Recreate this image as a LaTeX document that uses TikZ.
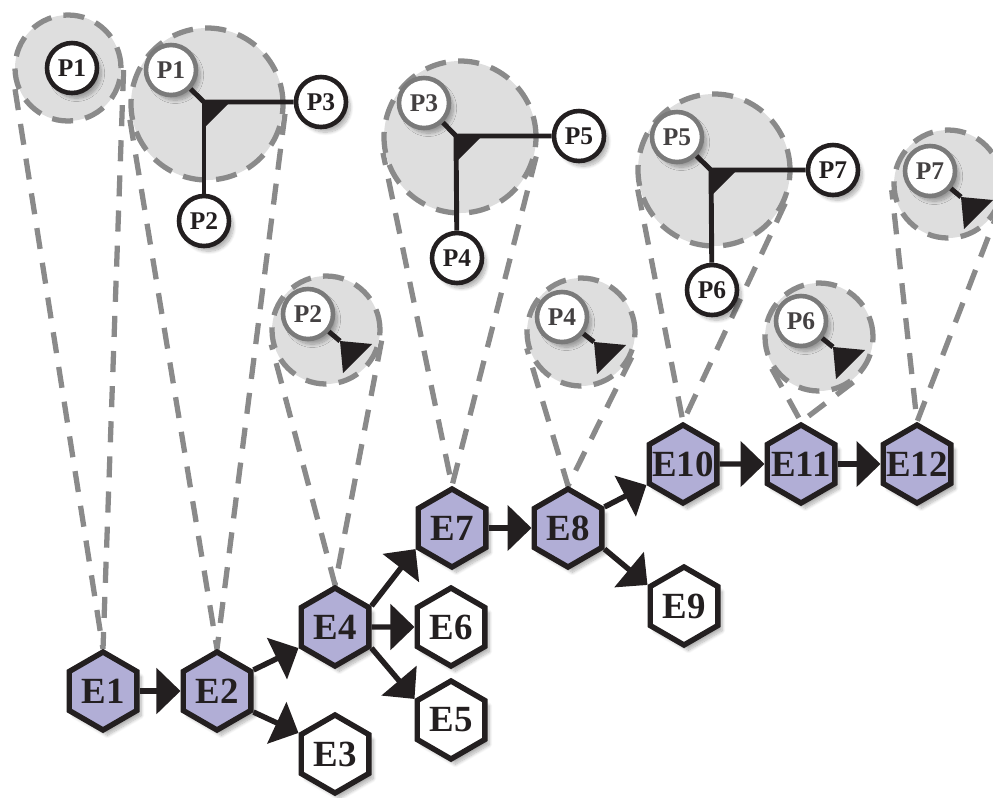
\documentclass[tikz,border=0pt]{standalone}
\usepackage{fontspec}
\setmainfont{Liberation Serif}
\usetikzlibrary{shapes.geometric,arrows.meta,calc,shadows.blur}

\definecolor{inkblack}{HTML}{231F20}
\definecolor{evlilac}{HTML}{B1AED6}
\definecolor{lensgray}{HTML}{DEDEDE}
\definecolor{dashgray}{HTML}{8A8A8A}
\definecolor{pgray}{HTML}{7A7A7A}

\pgfdeclarelayer{background}
\pgfsetlayers{background,main}

% labels get no width, so every hexagon keeps the same size
\newcommand{\evlabel}[1]{\makebox[0pt]{#1}}

\tikzset{
  soft/.style={blur shadow={shadow xshift=2.5pt, shadow yshift=-3pt, shadow opacity=30, shadow blur steps=10}},
  event/.style={regular polygon, regular polygon sides=6, shape border rotate=30,
    minimum size=1.56cm, inner sep=0pt, draw=inkblack, line width=3.1pt,
    fill=white, text=inkblack, font=\fontsize{21}{21}\selectfont\bfseries, soft},
  active/.style={event, fill=evlilac},
  proc/.style={circle, minimum size=1.0cm, inner sep=0pt, draw=inkblack, line width=2.6pt,
    fill=white, text=inkblack, font=\fontsize{14.5}{14.5}\selectfont\bfseries, soft},
  oldproc/.style={proc, draw=pgray, text=inkblack!85},
  lens/.style={circle, inner sep=0pt, fill=lensgray, draw=dashgray, line width=3pt,
    dash pattern=on 12pt off 7pt},
  ray/.style={draw=dashgray, line width=3pt, dash pattern=on 12pt off 8pt},
  flow/.style={draw=inkblack, line width=3.1pt, -{Triangle[length=0.48cm,width=0.9cm]}},
  link/.style={draw=inkblack, line width=2.8pt},
}

\begin{document}
\begin{tikzpicture}[x=0.2mm, y=-0.2mm]
  \path[use as bounding box] (0,0) rectangle (993,797);

  % views of the processes
  \node[lens, minimum size=2.12cm] (l1) at (68,68) {};
  \node[proc] (p1) at (72,68) {P1};

  \node[lens, minimum size=3.04cm] (l2) at (207,104) {};
  \coordinate (j1) at (204,102);
  \node[oldproc] (q1) at (171,70) {P1};
  \node[proc] (p3) at (321,102) {P3};
  \node[proc] (p2) at (204,221) {P2};
  \draw[link] (q1) -- (j1) -- (p3);
  \draw[link] (j1) -- (p2);
  \fill[inkblack] (j1) -- ++(26,0) -- ++(-26,26) -- cycle;

  \node[lens, minimum size=2.16cm] (l3) at (326,330) {};
  \node[oldproc] (q2) at (308,314) {P2};
  \coordinate (t2) at (340,341);
  \draw[link] (q2) -- (t2);
  \fill[inkblack] (t2) -- ++(32,3) -- ++(-29,29) -- cycle;

  \node[lens, minimum size=3.04cm] (l4) at (460,137) {};
  \coordinate (j2) at (456,136);
  \node[oldproc] (q3) at (424,103) {P3};
  \node[proc] (p5) at (579,136) {P5};
  \node[proc] (p4) at (457,258) {P4};
  \draw[link] (q3) -- (j2) -- (p5);
  \draw[link] (j2) -- (p4);
  \fill[inkblack] (j2) -- ++(26,0) -- ++(-26,26) -- cycle;

  \node[lens, minimum size=2.16cm] (l5) at (581,332) {};
  \node[oldproc] (q4) at (562,317) {P4};
  \coordinate (t4) at (594,342);
  \draw[link] (q4) -- (t4);
  \fill[inkblack] (t4) -- ++(32,3) -- ++(-29,29) -- cycle;

  \node[lens, minimum size=3.04cm] (l6) at (714,170) {};
  \coordinate (j3) at (711,170);
  \node[oldproc] (q5) at (677,137) {P5};
  \node[proc] (p7) at (833,170) {P7};
  \node[proc] (p6) at (712,290) {P6};
  \draw[link] (q5) -- (j3) -- (p7);
  \draw[link] (j3) -- (p6);
  \fill[inkblack] (j3) -- ++(26,0) -- ++(-26,26) -- cycle;

  \node[lens, minimum size=2.16cm] (l7) at (819,337) {};
  \node[oldproc] (q6) at (801,321) {P6};
  \coordinate (t6) at (833,347);
  \draw[link] (q6) -- (t6);
  \fill[inkblack] (t6) -- ++(32,3) -- ++(-29,29) -- cycle;

  \node[lens, minimum size=2.16cm] (l8) at (948,184) {};
  \node[oldproc] (q7) at (930,171) {P7};
  \coordinate (t7) at (961,197);
  \draw[link] (q7) -- (t7);
  \fill[inkblack] (t7) -- ++(32,3) -- ++(-29,29) -- cycle;

  % event graph
  \node[active] (e1) at (103,691) {\evlabel{E1}};
  \node[active] (e2) at (217,691) {\evlabel{E2}};
  \node[event]  (e3) at (335,754) {\evlabel{E3}};
  \node[active] (e4) at (335,627) {\evlabel{E4}};
  \node[event]  (e5) at (451,720) {\evlabel{E5}};
  \node[event]  (e6) at (451,627) {\evlabel{E6}};
  \node[active] (e7) at (452,528) {\evlabel{E7}};
  \node[active] (e8) at (568,528) {\evlabel{E8}};
  \node[event]  (e9) at (684,606) {\evlabel{E9}};
  \node[active] (e10) at (683,464) {\evlabel{E10}};
  \node[active] (e11) at (801,464) {\evlabel{E11}};
  \node[active] (e12) at (917,464) {\evlabel{E12}};

  \draw[flow] (e1.east) -- (e2.west);
  \draw[flow] (e2.30) -- (e4.210);
  \draw[flow] (e2.330) -- (e3.150);
  \draw[flow] (e4.30) -- (e7.210);
  \draw[flow] (e4.east) -- (e6.west);
  \draw[flow] (e4.330) -- (e5.150);
  \draw[flow] (e7.east) -- (e8.west);
  \draw[flow] (e8.30) -- (e10.210);
  \draw[flow] (e8.330) -- (e9.150);
  \draw[flow] (e10.east) -- (e11.west);
  \draw[flow] (e11.east) -- (e12.west);

  % cones from each view down to its event
  \begin{pgfonlayer}{background}
    \foreach \l/\e in {l1/e1, l2/e2, l3/e4, l4/e7, l5/e8, l6/e10, l7/e11, l8/e12} {
      \draw[ray] (tangent cs:node=\l, point={(\e.90)}, solution=1) -- (\e.90)
        -- (tangent cs:node=\l, point={(\e.90)}, solution=2);
    }
  \end{pgfonlayer}
\end{tikzpicture}
\end{document}
